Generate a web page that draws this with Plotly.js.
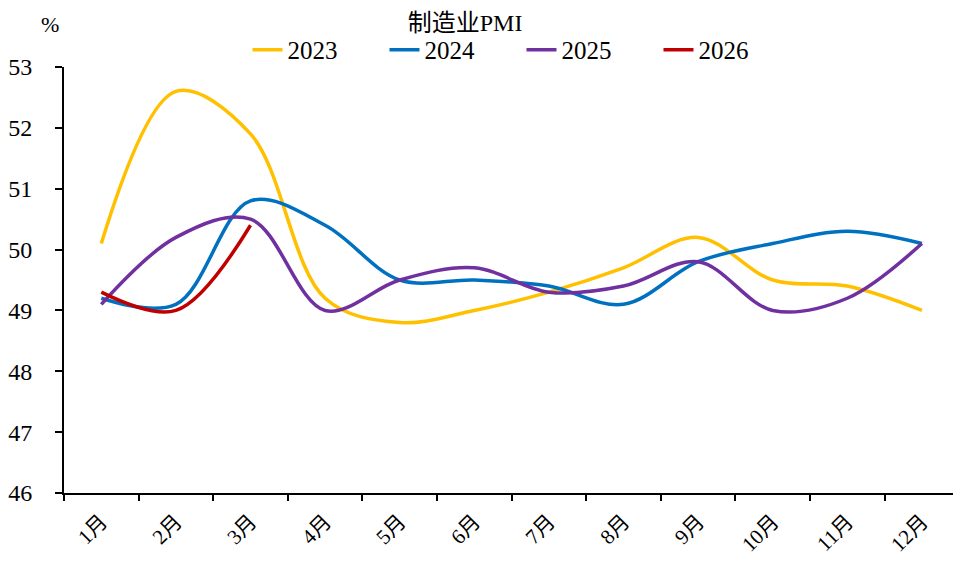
<!DOCTYPE html>
<html><head><meta charset="utf-8">
<script src="https://cdn.plot.ly/plotly-3.0.1.min.js"></script>
<style>html,body{margin:0;padding:0;overflow:hidden;background:#fff}</style>
</head><body><div id="chart" style="width:953px;height:563px"></div>
<script>
const months = ["1月","2月","3月","4月","5月","6月","7月","8月","9月","10月","11月","12月"];
const pmi2023 = [50.1,52.6,51.9,49.2,48.8,49.0,49.3,49.7,50.2,49.5,49.4,49.0];
const pmi2024 = [49.2,49.1,50.8,50.4,49.5,49.5,49.4,49.1,49.8,50.1,50.3,50.1];
const pmi2025 = [49.1,50.2,50.5,49.0,49.5,49.7,49.3,49.4,49.8,49.0,49.2,50.1];
const pmi2026 = [49.3,49.0,50.4];
const seriesNames = ["2023","2024","2025","2026"];
const colors = ["#FFC000","#0070C0","#7030A0","#C00000"];
const allSeries = [pmi2023,pmi2024,pmi2025,pmi2026];

const serif = 'Liberation Serif, DejaVu Serif, Noto Sans CJK SC, serif';
const traces = allSeries.map((vals,i)=>({
  type:'scatter', mode:'lines', name:seriesNames[i],
  x: months.slice(0, vals.length), y: vals,
  line:{color:colors[i], width:3.5, shape:'spline', smoothing:1},
  hoverinfo:'x+y+name'
}));

const layout = {
  width:953, height:563,
  margin:{l:64, r:0, t:67, b:70},
  paper_bgcolor:'#fff', plot_bgcolor:'#fff',
  font:{family:serif, color:'#000', size:22},
  title:{text:'制造业PMI', x:0.488, xanchor:'center', y:0.975, yanchor:'top', font:{family:serif, size:24, color:'#000'}},
  showlegend:true,
  legend:{orientation:'h', x:0.2064, xanchor:'left', y:1.04, yanchor:'middle',
    entrywidth:92, entrywidthmode:'pixels',
    font:{family:serif, size:25, color:'#000'}, bgcolor:'rgba(0,0,0,0)', itemwidth:30, traceorder:'normal'},
  xaxis:{type:'category', categoryorder:'array', categoryarray:months,
    range:[-0.5, 11.417], tickson:'boundaries', ticks:'outside', ticklen:6, tickwidth:2, tickcolor:'#000',
    showline:true, linecolor:'#000', linewidth:2, showgrid:false, zeroline:false,
    ticklabelstandoff:6,
    tickangle:-45, tickfont:{family:serif, size:21, color:'#000'}, fixedrange:true},
  yaxis:{range:[46,53], dtick:1, tick0:46, ticks:'outside', ticklen:7, tickwidth:2, tickcolor:'#000',
    showline:true, linecolor:'#000', linewidth:2, showgrid:false, zeroline:false,
    ticklabelstandoff:18, tickfont:{family:serif, size:24, color:'#000'}, fixedrange:true},
  annotations:[{text:'%', xref:'paper', yref:'paper', x:-0.016, y:1.10, xanchor:'center', yanchor:'middle',
    showarrow:false, font:{family:serif, size:22, color:'#000'}}]
};
Plotly.newPlot('chart', traces, layout, {displayModeBar:false, responsive:false});
</script></body></html>
